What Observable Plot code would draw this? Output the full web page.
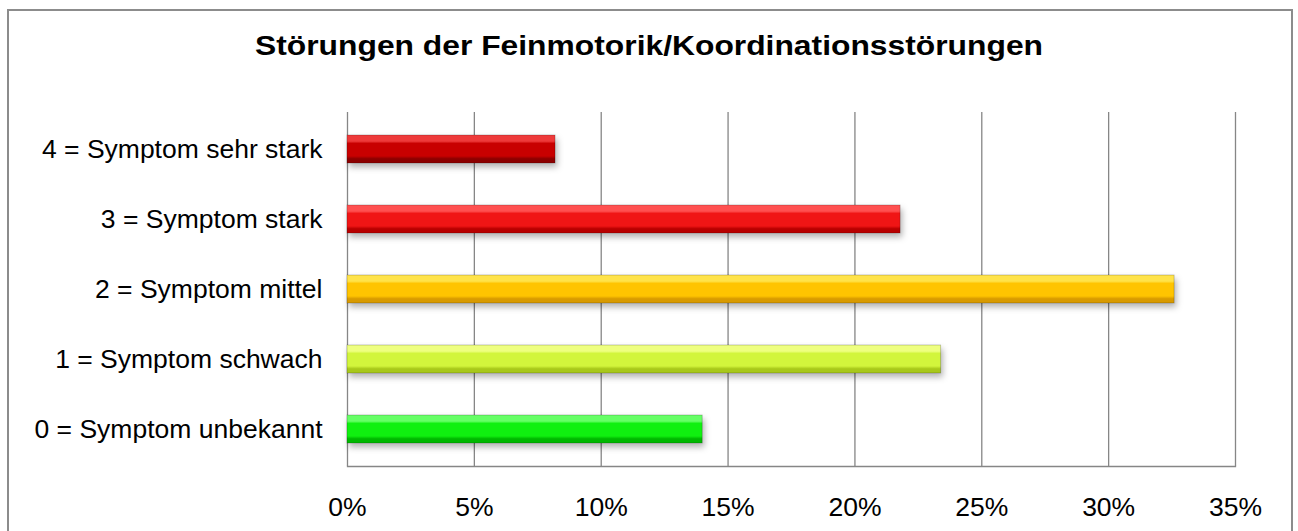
<!DOCTYPE html>
<html>
<head>
<meta charset="utf-8">
<script src="https://cdn.jsdelivr.net/npm/d3@7"></script>
<script src="https://cdn.jsdelivr.net/npm/@observablehq/plot@0.6"></script>
<style>
  html, body { margin: 0; padding: 0; background: #fff; }
  #wrap { position: relative; width: 1298px; height: 531px; overflow: hidden; font-family: "Liberation Sans", Arial, sans-serif; }
  #border { position: absolute; left: 7px; top: 9px; width: 1286px; height: 560px; border: 2px solid #8c8c8c; box-sizing: border-box; }
  #chart { position: absolute; left: 0; top: 0; }
</style>
</head>
<body>
<div id="wrap">
  <div id="border"></div>
  <div id="chart"></div>
</div>
<script>
const title = "Störungen der Feinmotorik/Koordinationsstörungen";
const categories = [
  "4 = Symptom sehr stark",
  "3 = Symptom stark",
  "2 = Symptom mittel",
  "1 = Symptom schwach",
  "0 = Symptom unbekannt"
];
const values = [0.082, 0.218, 0.326, 0.234, 0.140];
const xTicks = [0, 0.05, 0.10, 0.15, 0.20, 0.25, 0.30, 0.35];
const xTickLabels = ["0%", "5%", "10%", "15%", "20%", "25%", "30%", "35%"];

// palette: [light top, base, dark bottom]
const palette = [
  ["#ee3a3a", "#c80000", "#8c0000"],
  ["#ff5050", "#f01515", "#b80000"],
  ["#ffe34a", "#ffc400", "#d89a00"],
  ["#eeff80", "#d2f53c", "#a8c81a"],
  ["#66ff66", "#10f010", "#00b800"]
];

const data = categories.map((c, i) => ({cat: c, value: values[i], fill: `url(#grad${i})`}));

const chart = Plot.plot({
  width: 1298,
  height: 531,
  marginLeft: 347,
  marginRight: 63,
  marginTop: 112,
  marginBottom: 65,
  style: {fontFamily: "'Liberation Sans', Arial, sans-serif", fontSize: "26px", color: "#000", background: "transparent", overflow: "visible"},
  x: {domain: [0, 0.35], ticks: xTicks, label: null},
  y: {domain: categories, paddingInner: 0.6, paddingOuter: 0.3, label: null},
  color: {type: "identity"},
  marks: [
    Plot.ruleX(xTicks, {stroke: "#868686", strokeWidth: 1.3}),
    Plot.frame({anchor: "bottom", stroke: "#868686", strokeWidth: 1.3}),
    Plot.barX(data, {x1: 0, x2: "value", y: "cat", fill: "fill", stroke: "rgba(0,0,0,0.25)", strokeWidth: 0.8, className: "bars"}),
    Plot.axisX({ticks: xTicks, tickSize: 0, tickPadding: 31, fontSize: 26.5, label: null, tickFormat: (d) => xTickLabels[xTicks.indexOf(d)]}),
    Plot.axisY({tickSize: 0, tickPadding: 25, fontSize: 26.5, label: null})
  ]
});

// gradient defs
const svg = d3.select(chart.tagName.toLowerCase() === "svg" ? chart : chart.querySelector("svg"));
const defs = svg.insert("defs", ":first-child");
palette.forEach((p, i) => {
  const g = defs.append("linearGradient").attr("id", `grad${i}`).attr("x1", 0).attr("y1", 0).attr("x2", 0).attr("y2", 1);
  g.append("stop").attr("offset", "0%").attr("stop-color", p[0]);
  g.append("stop").attr("offset", "22%").attr("stop-color", p[0]);
  g.append("stop").attr("offset", "30%").attr("stop-color", p[1]);
  g.append("stop").attr("offset", "75%").attr("stop-color", p[1]);
  g.append("stop").attr("offset", "85%").attr("stop-color", p[2]);
  g.append("stop").attr("offset", "100%").attr("stop-color", p[2]);
});
svg.selectAll(".bars").style("filter", "drop-shadow(2px 4px 3px rgba(0,0,0,0.3))");

// title inside SVG
svg.append("text")
  .attr("x", 649)
  .attr("y", 55)
  .attr("text-anchor", "middle")
  .attr("font-family", "'Liberation Sans', Arial, sans-serif")
  .attr("font-weight", "bold")
  .attr("font-size", 28)
  .attr("textLength", 788)
  .attr("lengthAdjust", "spacingAndGlyphs")
  .attr("fill", "#000")
  .text(title);

document.getElementById("chart").appendChild(chart);
</script>
</body>
</html>
